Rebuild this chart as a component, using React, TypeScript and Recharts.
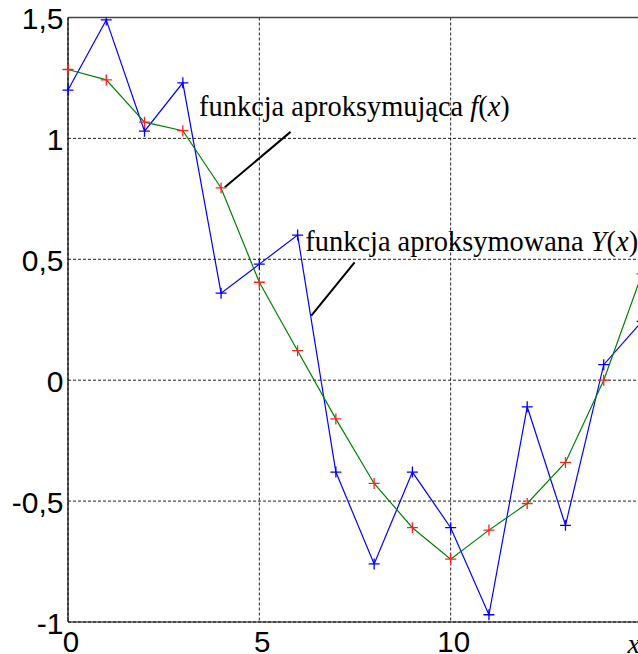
import React from 'react';
import { LineChart, Line, XAxis, YAxis, CartesianGrid, ReferenceLine, ReferenceDot } from 'recharts';

const xValues = [0, 1, 2, 3, 4, 5, 6, 7, 8, 9, 10, 11, 12, 13, 14, 15];
const approximatedY = [1.2, 1.49, 1.03, 1.23, 0.36, 0.48, 0.6, -0.38, -0.76, -0.38, -0.61, -0.97, -0.11, -0.6, 0.064, 0.243];
const approximatingF = [1.285, 1.242, 1.067, 1.032, 0.795, 0.405, 0.122, -0.16, -0.427, -0.61, -0.74, -0.62, -0.51, -0.34, 0.0, 0.44];
const xTicks = [0, 5, 10, 15];
const yTicks = [-1, -0.5, 0, 0.5, 1, 1.5];

const label1 = { x: 3.426, y: 1.094, text: 'funkcja aproksymująca ', fn: 'f' };
const label2 = { x: 6.203, y: 0.534, text: 'funkcja aproksymowana ', fn: 'Y' };
const pointer1 = [{ x: 5.816, y: 1.027 }, { x: 4.098, y: 0.798 }];
const pointer2 = [{ x: 7.49, y: 0.487 }, { x: 6.36, y: 0.267 }];

const data = xValues.map((x, i) => ({ x, Y: approximatedY[i], f: approximatingF[i] }));

const SANS = '"Liberation Sans", Arial, sans-serif';
const SERIF = '"Liberation Serif", "Times New Roman", serif';

const plusDot = (color: string) => (props: any) => {
  const { cx, cy, index } = props;
  if (cx == null || cy == null) return <g key={`p-${index}`} />;
  const h = 5.5;
  return (
    <path
      key={`p-${color}-${index}`}
      d={`M${cx - h},${cy}H${cx + h}M${cx},${cy - h}V${cy + h}`}
      stroke={color}
      strokeWidth={1.3}
      fill="none"
    />
  );
};

const YTick = (props: any) => {
  const { x, y, payload } = props;
  return (
    <text x={x - 4.5} y={y + 11.5} textAnchor="end" fontFamily={SANS} fontSize={30} fill="#000">
      {String(payload.value).replace('.', ',')}
    </text>
  );
};

const XTick = (props: any) => {
  const { x, y, payload } = props;
  if (payload.value === 15) {
    return (
      <text x={x - 14.5} y={652.5} fontFamily={SERIF} fontStyle="italic" fontSize={28} fill="#000">
        x
      </text>
    );
  }
  return (
    <text x={x + 3} y={y + 29.8} textAnchor="middle" fontFamily={SANS} fontSize={29.5} fill="#000">
      {payload.value}
    </text>
  );
};

const annotation = (lab: { text: string; fn: string }) => (props: any) => {
  const vb = props.viewBox || {};
  return (
    <text x={vb.x} y={vb.y} fontFamily={SERIF} fontSize={28.4} fill="#000">
      {lab.text}
      <tspan fontStyle="italic">{lab.fn}</tspan>
      <tspan>(</tspan>
      <tspan fontStyle="italic">x</tspan>
      <tspan>)</tspan>
    </text>
  );
};

export default function App() {
  return (
    <div style={{ position: 'fixed', left: 0, top: 0, width: 638, height: 654, overflow: 'hidden', background: '#fff' }}>
      <LineChart width={700} height={654} data={data} margin={{ top: 17.5, right: 58, bottom: 0, left: 0 }}>
        <CartesianGrid stroke="#222" strokeDasharray="3 2" strokeWidth={1} />
        <XAxis
          dataKey="x"
          type="number"
          domain={[0, 15]}
          ticks={xTicks}
          height={32}
          tickSize={0}
          tickMargin={0}
          tickLine={false}
          axisLine={{ stroke: '#000', strokeWidth: 1.2 }}
          tick={<XTick />}
          interval={0}
        />
        <XAxis
          xAxisId="inner"
          dataKey="x"
          type="number"
          domain={[0, 15]}
          ticks={xTicks}
          mirror
          tickSize={9}
          tick={false}
          axisLine={false}
          tickLine={{ stroke: '#000' }}
        />
        <YAxis
          type="number"
          domain={[-1, 1.5]}
          ticks={yTicks}
          width={68}
          tickSize={0}
          tickMargin={0}
          tickLine={false}
          axisLine={{ stroke: '#000', strokeWidth: 1.2 }}
          tick={<YTick />}
          interval={0}
          allowDataOverflow
        />
        <ReferenceLine y={1.5} stroke="#444" strokeWidth={1.5} />
        <Line
          dataKey="Y"
          stroke="#0000ff"
          strokeWidth={1.2}
          dot={plusDot('#0000ff')}
          activeDot={false}
          isAnimationActive={false}
        />
        <Line
          dataKey="f"
          stroke="#008000"
          strokeWidth={1.2}
          dot={plusDot('#ff2020')}
          activeDot={false}
          isAnimationActive={false}
        />
        <ReferenceLine segment={pointer1} stroke="#000" strokeWidth={2} />
        <ReferenceLine segment={pointer2} stroke="#000" strokeWidth={2} />
        <ReferenceDot x={label1.x} y={label1.y} r={0} fill="none" stroke="none" label={{ content: annotation(label1) }} />
        <ReferenceDot x={label2.x} y={label2.y} r={0} fill="none" stroke="none" label={{ content: annotation(label2) }} />
      </LineChart>
    </div>
  );
}
